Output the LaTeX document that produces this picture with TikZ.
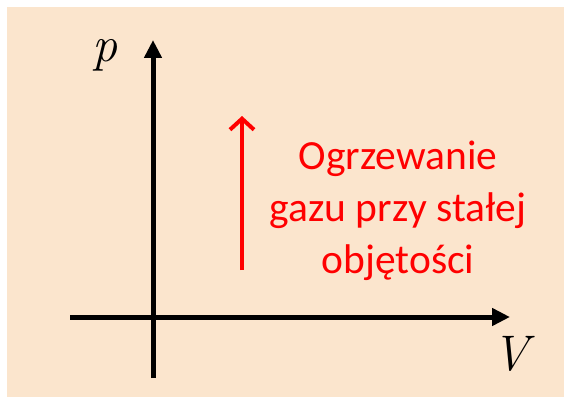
\documentclass[tikz,border=0pt]{standalone}
\usepackage{fontspec}
\usetikzlibrary{positioning,arrows.meta}
\newfontfamily\notefont{Carlito}
\newfontfamily\varfont{Latin Modern Roman}
\definecolor{paperbeige}{RGB}{251,229,205}
\definecolor{heatred}{RGB}{255,0,0}

\begin{document}
\begin{tikzpicture}[x=1pt,y=1pt,
    axis/.style={line width=5pt,-{Triangle[length=18pt,width=17pt]}},
    heat/.style={heatred,line width=4pt,-{Straight Barb[length=11pt,width=24pt,line width=4pt]}},
    varlabel/.style={font=\varfont\itshape\fontsize{50}{50}\selectfont,inner sep=0pt},
    note/.style={heatred,align=center,inner sep=0pt,
      font=\notefont\fontsize{41.5}{52}\selectfont}]
  \useasboundingbox (0,0) rectangle (564,397);
  \fill[paperbeige] (7,0) rectangle (564,390);
  \coordinate (vstart) at (153,19);
  \coordinate (vend) at (153,357);
  \coordinate (hstart) at (70,80);
  \coordinate (hend) at (510,80);
  \draw[axis] (vstart) -- (vend);
  \draw[axis] (hstart) -- (hend);
  \node[varlabel] (plabel) at (105,342) {p};
  \node[varlabel] (vlabel) at (511,43) {V};
  \coordinate (heatfrom) at (242,127);
  \coordinate (heatto) at (242,281);
  \draw[heat] (heatfrom) -- (heatto);
  \node[note] (heatnote) at (398,186) {Ogrzewanie\\gazu przy stałej\\objętości};
\end{tikzpicture}
\end{document}
